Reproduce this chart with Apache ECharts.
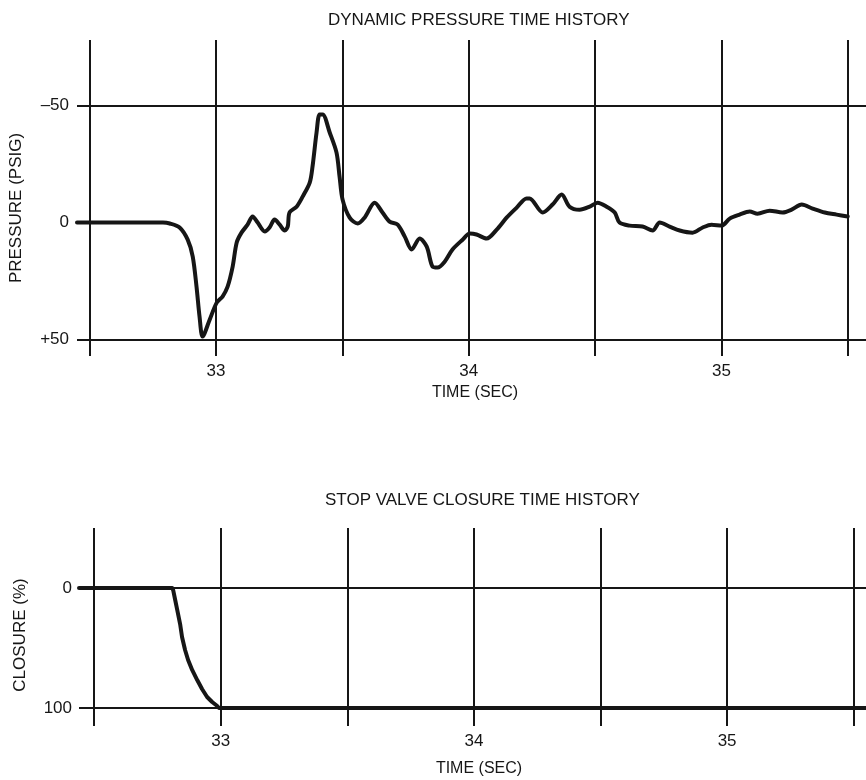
<!DOCTYPE html>
<html>
<head>
<meta charset="utf-8">
<script src="https://cdn.jsdelivr.net/npm/echarts@6/dist/echarts.min.js"></script>
<style>
  html, body { margin: 0; padding: 0; background: #fff; }
  #chart { width: 866px; height: 780px; }
</style>
</head>
<body>
<div id="chart"></div>
<script>
// dynamic pressure trace (time in s, pressure in psig)
const pressureTime = [
  32.45, 32.79, 32.817, 32.856, 32.888, 32.908, 32.923, 32.935, 32.947, 32.975,
  33.003, 33.026, 33.046, 33.066, 33.082, 33.101, 33.125, 33.145, 33.165, 33.193,
  33.212, 33.232, 33.252, 33.272, 33.284, 33.291, 33.319, 33.343, 33.371, 33.382,
  33.398, 33.41, 33.422, 33.45, 33.477, 33.489, 33.501, 33.529, 33.561, 33.588,
  33.628, 33.659, 33.687, 33.719, 33.747, 33.774, 33.806, 33.834, 33.857, 33.877,
  33.905, 33.936, 33.976, 34.004, 34.031, 34.071, 34.111, 34.15, 34.19, 34.229,
  34.241, 34.293, 34.332, 34.368, 34.399, 34.439, 34.479, 34.51, 34.546, 34.578,
  34.597, 34.637, 34.688, 34.728, 34.756, 34.795, 34.835, 34.886, 34.926, 34.961,
  35.001, 35.033, 35.072, 35.112, 35.143, 35.191, 35.242, 35.278, 35.318, 35.361,
  35.409, 35.456, 35.5
];
const pressureValues = [
  0, 0, 0.4, 2.1, 7.3, 14.5, 27.4, 40.2, 48.7, 41.5,
  34.2, 31.6, 27.4, 18.8, 8.5, 4.3, 0.9, -2.6, 0, 3.8,
  2.1, -1.3, 0.9, 3.4, 1.7, -4.3, -6.8, -11.1, -17.1, -23.9,
  -38.5, -46.2, -46.2, -38.5, -29.9, -19.7, -9.8, -2.1, 0.4, -2.1,
  -8.5, -4.3, -0.4, 0.9, 6.0, 11.5, 6.8, 10.3, 18.8, 19.2,
  16.7, 11.5, 7.3, 4.7, 5.1, 6.8, 3.0, -2.1, -6.4, -10.3,
  -10.3, -4.3, -7.7, -12.0, -6.8, -5.5, -6.8, -8.5, -6.8, -4.3,
  0, 1.3, 1.7, 3.4, 0, 1.7, 3.4, 4.3, 2.1, 0.9,
  1.3, -1.7, -3.4, -4.7, -3.8, -5.1, -4.3, -5.5, -7.7, -6.0,
  -4.3, -3.4, -2.6
];

// stop valve closure (%)
const closureTime = [
  32.44, 32.808, 32.812, 32.82, 32.828, 32.84, 32.847, 32.859, 32.871, 32.887,
  32.907, 32.926, 32.946, 32.966, 32.986, 32.993, 35.6
];
const closureValues = [
  0, 0, 1.7, 10, 18.3, 30.8, 40.8, 51.7, 60, 68.3,
  76.7, 84.2, 90.8, 95, 98.3, 100, 100
];

const timeGridLines = [32.5, 33, 33.5, 34, 34.5, 35, 35.5];
const pressureGridLines = [-50, 50];
const closureGridLines = [0, 100];
const pressureLabels = { '-50': '\u201350', '0': '0', '50': '+50' };
const closureLabels = { '0': '0', '100': '100' };

const ink = '#161616';
const font = "'Liberation Sans', Arial, sans-serif";

const zip = (xs, ys) => xs.map((x, i) => [x, ys[i]]);

const gridMarks = (xs, ys) => ({
  silent: true,
  symbol: ['none', 'none'],
  label: { show: false },
  lineStyle: { type: 'solid', color: ink, width: 2 },
  animation: false,
  data: xs.map(v => ({ xAxis: v })).concat(ys.map(v => ({ yAxis: v })))
});

const intLabel = v => {
  const r = Math.round(v);
  return Math.abs(v - r) < 1e-6 ? String(r) : '';
};

const xAxisBase = {
  type: 'value',
  axisLine: { show: false },
  axisTick: { show: false },
  splitLine: { show: false },
  axisLabel: { formatter: intLabel, color: ink, fontSize: 17, fontFamily: font, margin: 7 },
  name: 'TIME (SEC)',
  nameLocation: 'middle',
  nameTextStyle: { color: ink, fontSize: 16, fontFamily: font }
};

const option = {
  backgroundColor: '#fff',
  animation: false,
  title: [
    {
      text: 'DYNAMIC PRESSURE TIME HISTORY',
      left: 323, top: 7,
      textStyle: { color: ink, fontSize: 17, fontWeight: 'normal', fontFamily: font }
    },
    {
      text: 'STOP VALVE CLOSURE TIME HISTORY',
      left: 320, top: 487,
      textStyle: { color: ink, fontSize: 17, fontWeight: 'normal', fontFamily: font }
    }
  ],
  grid: [
    { left: 77, top: 40, width: 796, height: 316, outerBoundsMode: 'none' },
    { left: 79, top: 528, width: 800, height: 198, outerBoundsMode: 'none' }
  ],
  xAxis: [
    Object.assign({}, xAxisBase, { gridIndex: 0, min: 32.45, max: 35.6, interval: 0.05, nameGap: 29 }),
    Object.assign({}, xAxisBase, { gridIndex: 1, min: 32.44, max: 35.6, interval: 0.02, nameGap: 35 })
  ],
  yAxis: [
    {
      gridIndex: 0, type: 'value', inverse: true, min: -78, max: 57, interval: 1,
      axisLine: { show: false }, axisTick: { show: false }, splitLine: { show: false },
      axisLabel: {
        formatter: v => pressureLabels[String(v)] || '',
        color: ink, fontSize: 17, fontFamily: font, margin: 8
      },
      name: 'PRESSURE (PSIG)', nameLocation: 'middle', nameGap: 52,
      nameTextStyle: { color: ink, fontSize: 17, fontFamily: font, padding: [0, 20, 0, 0] }
    },
    {
      gridIndex: 1, type: 'value', inverse: true, min: -50, max: 115, interval: 5,
      axisLine: { show: false }, axisTick: { show: false }, splitLine: { show: false },
      axisLabel: {
        formatter: v => closureLabels[String(v)] || '',
        color: ink, fontSize: 17, fontFamily: font, margin: 7
      },
      name: 'CLOSURE (%)', nameLocation: 'middle', nameGap: 50,
      nameTextStyle: { color: ink, fontSize: 17, fontFamily: font, padding: [0, 16, 0, 0] }
    }
  ],
  series: [
    {
      type: 'line',
      xAxisIndex: 0, yAxisIndex: 0,
      data: zip(pressureTime, pressureValues),
      showSymbol: false,
      smooth: 0.3,
      lineStyle: { color: ink, width: 4, cap: 'round', join: 'round' },
      markLine: gridMarks(timeGridLines, pressureGridLines),
      z: 3
    },
    {
      type: 'line',
      xAxisIndex: 1, yAxisIndex: 1,
      data: zip(closureTime, closureValues),
      showSymbol: false,
      smooth: false,
      lineStyle: { color: ink, width: 4, cap: 'round', join: 'round' },
      markLine: gridMarks(timeGridLines, closureGridLines),
      z: 3
    }
  ]
};

const chart = echarts.init(document.getElementById('chart'), null, { renderer: 'canvas' });
chart.setOption(option);
</script>
</body>
</html>
